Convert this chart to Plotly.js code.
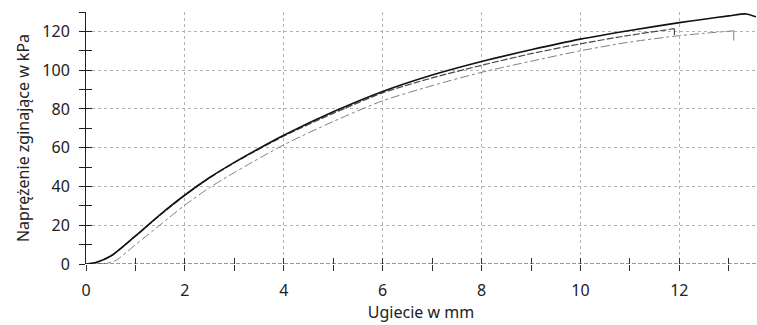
<!DOCTYPE html>
<html>
<head>
<meta charset="utf-8">
<script src="https://cdn.plot.ly/plotly-3.0.1.min.js"></script>
<style>html,body{margin:0;padding:0;background:#fff;}#chart{width:757px;height:325px;}</style>
</head>
<body>
<div id="chart"></div>
<script>
// Series A (solid black)
const xA = [0, 0.2, 0.5, 1.0, 1.5, 2, 2.5, 3, 3.5, 4, 5, 6, 7, 8, 9, 10, 11, 12, 12.5, 13, 13.35, 13.55];
const yA = [0, 0.8, 4.1, 14.5, 25.5, 35.6, 44.6, 52.4, 59.6, 66.4, 78.5, 89, 97.5, 104.5, 110.5, 116, 120.5, 124.5, 126.3, 128, 129, 127.5];
// Series B (dark grey, long dash) — last point is the break drop
const xB = [0, 0.2, 0.5, 1, 1.5, 2, 2.5, 3, 4, 5, 6, 7, 8, 9, 10, 11, 11.9, 11.9];
const yB = [0, 0.7, 4, 14.3, 25.3, 35.4, 44.4, 52.2, 66, 77.7, 88.3, 96, 102.5, 108.5, 113.6, 118, 121.4, 118];
// Series C (grey, dash-dot) — last point is the break drop
const xC = [0.2, 0.4, 0.6, 1, 1.5, 2, 2.5, 3, 4, 5, 6, 7, 8, 9, 10, 11, 12, 12.5, 13.1, 13.1];
const yC = [0, 0.3, 1.8, 9.9, 20.2, 30.4, 39.4, 47.2, 61.5, 73.5, 84.2, 92, 98.9, 104.6, 110, 114.5, 117.8, 119, 120.3, 115.3];

const xTitle = 'Ugiecie w mm';
const yTitle = 'Naprężenie zginające w kPa';
const xRange = [0, 13.55];
const yRange = [0, 130];

const font = {family: 'Noto Sans, Open Sans, sans-serif', size: 16, color: '#222'};

const styleA = {color: '#111', width: 1.6};
const styleB = {color: '#4a4a4a', width: 1.2, dash: '7px,2px'};
const styleC = {color: '#808080', width: 1, dash: 'dashdot'};

function curve(x, y, style) {
  return {x: x, y: y, mode: 'lines', line: Object.assign({shape: 'spline', smoothing: 0.7}, style), hoverinfo: 'skip'};
}
function drop(x, y, style) {
  return {x: x.slice(-2), y: y.slice(-2), mode: 'lines', line: Object.assign({}, style, {dash: 'solid'}), hoverinfo: 'skip'};
}

const traces = [
  curve(xC.slice(0, -1), yC.slice(0, -1), styleC),
  drop(xC, yC, styleC),
  curve(xB.slice(0, -1), yB.slice(0, -1), styleB),
  drop(xB, yB, styleB),
  curve(xA, yA, styleA),
  {x: [], y: [], xaxis: 'x2', yaxis: 'y2', mode: 'lines', hoverinfo: 'skip'}
];

const layout = {
  width: 757, height: 325,
  margin: {l: 86, r: 1, t: 12, b: 61},
  paper_bgcolor: '#fff', plot_bgcolor: '#fff',
  showlegend: false,
  font: font,
  xaxis: {
    range: xRange, dtick: 2, tick0: 0,
    showgrid: true, gridcolor: '#b3b3b3', griddash: 'dot', gridwidth: 1,
    zeroline: false, showline: false,
    ticks: 'outside', ticklen: 6, tickcolor: '#333',
    minor: {dtick: 1, ticks: 'outside', ticklen: 6, tickcolor: '#333', showgrid: false},
    ticklabelstandoff: 6,
    tickfont: font,
    title: {text: xTitle, font: font, standoff: 6}
  },
  yaxis: {
    range: yRange, dtick: 20, tick0: 0,
    showgrid: true, gridcolor: '#b3b3b3', griddash: 'dot', gridwidth: 1,
    zeroline: false, showline: true, linecolor: '#222', linewidth: 1,
    ticks: 'outside', ticklen: 6, tickcolor: '#222',
    minor: {dtick: 10, ticks: 'outside', ticklen: 6, tickcolor: '#222', showgrid: false},
    ticklabelstandoff: 6,
    tickfont: font,
    title: {text: yTitle, font: font, standoff: 8}
  },
  xaxis2: {
    range: xRange, overlaying: 'x', side: 'bottom', anchor: 'y2',
    dtick: 1, tick0: 0, ticks: 'inside', ticklen: 6, tickcolor: '#333',
    showticklabels: false, showgrid: false, zeroline: false, showline: false
  },
  yaxis2: {
    range: yRange, overlaying: 'y', side: 'left', anchor: 'x2',
    dtick: 10, tick0: 0, ticks: 'inside', ticklen: 6, tickcolor: '#222',
    showticklabels: false, showgrid: false, zeroline: false, showline: false
  },
  shapes: [
    {type: 'line', xref: 'paper', x0: 0, x1: 1, yref: 'y', y0: 0, y1: 0,
     line: {color: '#333', width: 1.2, dash: '4px,2px'}, layer: 'above'}
  ]
};

Plotly.newPlot('chart', traces, layout, {staticPlot: true, displayModeBar: false});
</script>
</body>
</html>
